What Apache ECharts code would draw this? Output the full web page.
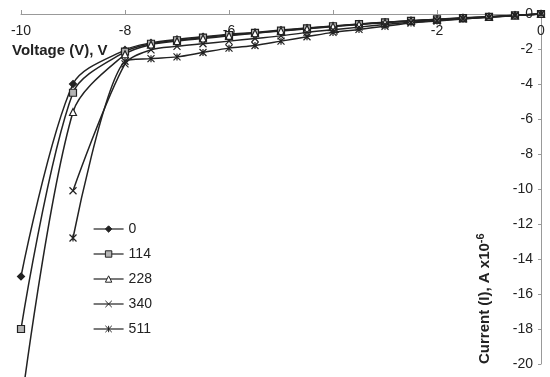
<!DOCTYPE html>
<html>
<head>
<meta charset="utf-8">
<script src="https://cdn.jsdelivr.net/npm/echarts@6/dist/echarts.min.js"></script>
<style>
  html, body { margin: 0; padding: 0; background: #fff; }
  #chart { width: 550px; height: 377px; }
</style>
</head>
<body>
<div id="chart"></div>
<script>
// voltage steps (V)
const voltage = [-10, -9, -8, -7.5, -7, -6.5, -6, -5.5, -5, -4.5, -4, -3.5, -3, -2.5, -2, -1.5, -1, -0.5, 0];
// current (x10^-6 A) for each legend value
const s0 = [-15, -4.0, -2.05, -1.65, -1.45, -1.3, -1.15, -1.05, -0.92, -0.8, -0.68, -0.57, -0.47, -0.38, -0.3, -0.22, -0.15, -0.07, 0];
const s114 = [-18, -4.5, -2.15, -1.7, -1.5, -1.35, -1.2, -1.08, -0.95, -0.82, -0.7, -0.58, -0.48, -0.39, -0.31, -0.23, -0.16, -0.08, 0];
const s228 = [-22.5, -5.6, -2.3, -1.75, -1.55, -1.4, -1.25, -1.1, -0.97, -0.85, -0.72, -0.6, -0.5, -0.4, -0.32, -0.24, -0.17, -0.08, 0];
const s340 = [null, -10.1, -2.85, -2.05, -1.85, -1.7, -1.55, -1.4, -1.25, -1.05, -0.9, -0.75, -0.6, -0.47, -0.37, -0.27, -0.18, -0.08, 0];
const s511 = [null, -12.8, -2.7, -2.55, -2.45, -2.2, -1.95, -1.8, -1.55, -1.3, -1.05, -0.88, -0.7, -0.52, -0.4, -0.28, -0.19, -0.09, 0];
const names = ["0", "114", "228", "340", "511"];

const FONT = "Liberation Sans";
const INK = "#222";

function pairs(vals) {
  return voltage.map((v, i) => [v, vals[i]]);
}

function line(name, vals, symbol, fill) {
  return {
    name: name,
    type: "line",
    data: pairs(vals),
    smooth: 0.3,
    clip: false,
    symbol: symbol,
    symbolSize: 7,
    lineStyle: { color: INK, width: 1.5 },
    itemStyle: { color: fill, borderColor: INK, borderWidth: 1.2 }
  };
}

const chart = echarts.init(document.getElementById("chart"));
chart.setOption({
  animation: false,
  grid: { left: 21, right: 9, top: 14, bottom: 13 },
  legend: {
    orient: "vertical",
    left: 88,
    top: 217,
    itemWidth: 30,
    itemHeight: 8,
    itemGap: 11,
    data: names,
    lineStyle: { width: 1.2 },
    itemStyle: { borderWidth: 1 },
    textStyle: { fontFamily: FONT, fontSize: 14, color: INK }
  },
  xAxis: {
    type: "value",
    position: "top",
    min: -10,
    max: 0,
    interval: 2,
    axisLine: { show: true, lineStyle: { color: "#999" } },
    axisTick: { show: true, length: 4, lineStyle: { color: "#999" } },
    axisLabel: { inside: true, margin: 10, fontFamily: FONT, fontSize: 14, color: INK },
    splitLine: { show: false }
  },
  yAxis: {
    type: "value",
    position: "right",
    min: -20,
    max: 0,
    interval: 2,
    axisLine: { show: true, lineStyle: { color: "#999" } },
    axisTick: { show: true, inside: true, length: 3, lineStyle: { color: "#999" } },
    axisLabel: { inside: true, margin: 8, fontFamily: FONT, fontSize: 14, color: INK },
    splitLine: { show: false }
  },
  graphic: [
    {
      type: "text",
      left: 12,
      top: 43,
      style: { text: "Voltage (V), V", fontFamily: FONT, fontSize: 15, fontWeight: "bold", fill: INK }
    },
    {
      type: "text",
      x: 475,
      y: 364,
      rotation: Math.PI / 2,
      style: {
        text: "Current (I), A x10{sup|-6}",
        fontFamily: FONT,
        fontSize: 15,
        fontWeight: "bold",
        fill: INK,
        rich: { sup: { fontSize: 11, fontWeight: "bold", fontFamily: FONT, verticalAlign: "top", padding: [0, 0, 8, 0] } }
      }
    }
  ],
  series: [
    line("0", s0, "diamond", INK),
    line("114", s114, "rect", "#b4b4b4"),
    line("228", s228, "triangle", "#fff"),
    line("340", s340, "path://M0,0L10,10M10,0L0,10", "none"),
    line("511", s511, "path://M0,0L10,10M10,0L0,10M5,0L5,10", "none")
  ]
});
</script>
</body>
</html>
